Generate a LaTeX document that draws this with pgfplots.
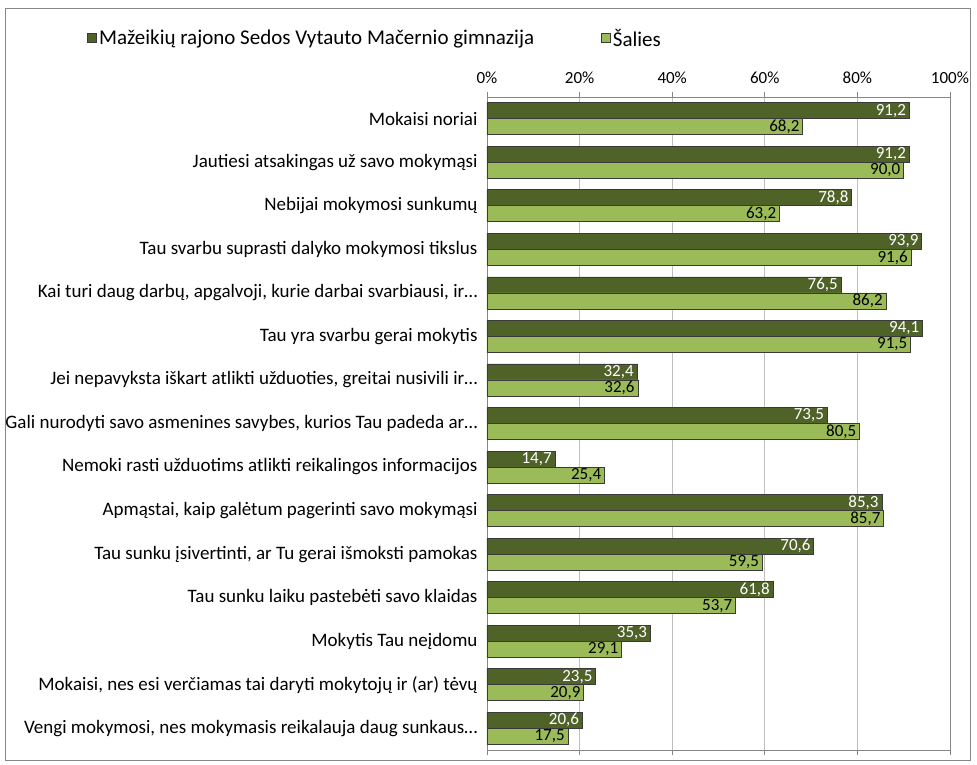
\documentclass[border=0pt]{standalone}
\usepackage{pgfplots}
\pgfplotsset{compat=1.18}
\usepackage{fontspec}
\setmainfont{Carlito}
\definecolor{darkg}{HTML}{4F6228}
\definecolor{lightg}{HTML}{9BBB59}
\definecolor{edgec}{HTML}{3A3A3A}
\definecolor{gridc}{HTML}{BFBFBF}
\definecolor{axc}{HTML}{868686}
\newcommand{\fs}[1]{\fontsize{#1}{#1}\selectfont}
\begin{document}
\begin{tikzpicture}
\begin{axis}[
  name=ax,
  scale only axis,
  width=463pt, height=653pt,
  xbar, bar width=16pt,
  xmin=0, xmax=100,
  ymin=-0.5, ymax=14.5,
  y dir=reverse,
  xtick={0,20,...,100},
  xticklabel pos=upper,
  xticklabel={\pgfmathprintnumber{\tick}\%},
  /pgf/number format/assume math mode=true,
  xticklabel style={font=\fs{17}, yshift=5pt},
  yticklabel style={font=\fs{19}, xshift=-1pt},
  xmajorgrids,
  grid style={gridc, line width=0.8pt},
  axis line style={axc, line width=0.8pt},
  tick align=outside,
  xtick style={axc, line width=0.8pt},
  major tick length=5pt,
  ytick={0,...,14},
  ytick style={draw=none},
  minor ytick={-0.5,0.5,...,14.5},
  minor tick length=5pt,
  minor tick style={axc, line width=0.8pt},
  yticklabels={
    Mokaisi noriai,
    Jautiesi atsakingas už savo mokymąsi,
    Nebijai mokymosi sunkumų,
    Tau svarbu suprasti dalyko mokymosi tikslus,
    {Kai turi daug darbų, apgalvoji, kurie darbai svarbiausi, ir…},
    Tau yra svarbu gerai mokytis,
    {Jei nepavyksta iškart atlikti užduoties, greitai nusivili ir…},
    {Gali nurodyti savo asmenines savybes, kurios Tau padeda ar…},
    Nemoki rasti užduotims atlikti reikalingos informacijos,
    {Apmąstai, kaip galėtum pagerinti savo mokymąsi},
    {Tau sunku įsivertinti, ar Tu gerai išmoksti pamokas},
    Tau sunku laiku pastebėti savo klaidas,
    Mokytis Tau neįdomu,
    {Mokaisi, nes esi verčiamas tai daryti mokytojų ir (ar) tėvų},
    {Vengi mokymosi, nes mokymasis reikalauja daug sunkaus…}
  },
  nodes near coords={\pgfmathprintnumber[fixed,fixed zerofill,precision=1,use comma]{\pgfplotspointmeta}},
  every node near coord/.append style={anchor=east, font=\fs{17}, xshift=-1pt, inner sep=2pt},
  legend style={at={(-0.87,1.09)}, anchor=west, draw=none, fill=none,
    legend columns=2, font=\fs{21},
    /tikz/every even column/.append style={column sep=65pt}},
  legend image code/.code={\draw[#1, draw=edgec, line width=0.6pt] (0cm,-0.16cm) rectangle (0.32cm,0.16cm);},
]
\addplot[fill=darkg, draw=edgec, line width=0.8pt, bar shift=8pt,
  every node near coord/.append style={text=white}] coordinates {
(91.2,0) (91.2,1) (78.8,2) (93.9,3) (76.5,4) (94.1,5) (32.4,6) (73.5,7)
(14.7,8) (85.3,9) (70.6,10) (61.8,11) (35.3,12) (23.5,13) (20.6,14)};
\addlegendentry{Mažeikių rajono Sedos Vytauto Mačernio gimnazija}
\addplot[fill=lightg, draw=edgec, line width=0.8pt, bar shift=-8pt,
  every node near coord/.append style={text=black}] coordinates {
(68.2,0) (90.0,1) (63.2,2) (91.6,3) (86.2,4) (91.5,5) (32.6,6) (80.5,7)
(25.4,8) (85.7,9) (59.5,10) (53.7,11) (29.1,12) (20.9,13) (17.5,14)};
\addlegendentry{Šalies}
\end{axis}
\draw[axc, line width=0.8pt] ([shift={(-482pt,-10pt)}]ax.south west) rectangle ([shift={(-487pt+970pt,742pt)}]ax.south west);
\useasboundingbox ([shift={(-487pt,-15pt)}]ax.south west) rectangle ([shift={(490pt,750pt)}]ax.south west);
\end{tikzpicture}
\end{document}
